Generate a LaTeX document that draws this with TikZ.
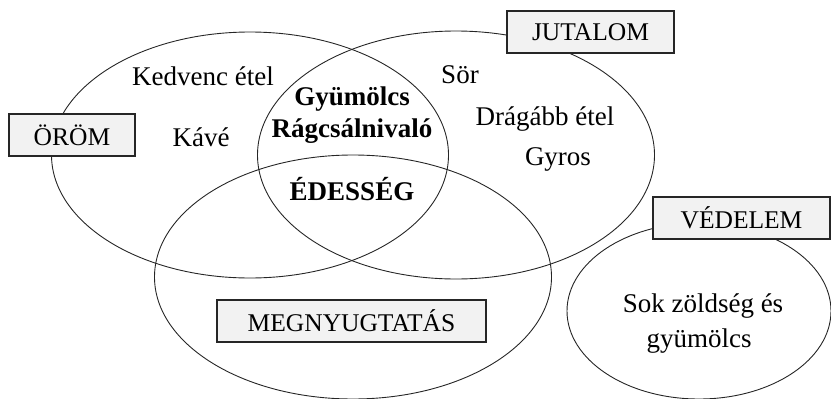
\documentclass[tikz,border=0pt]{standalone}
\usepackage{fontspec}
\setmainfont{Liberation Serif}
\usetikzlibrary{shapes.geometric}
\begin{document}
\begin{tikzpicture}[x=1pt,y=-1pt,
  set/.style={draw=black!85, line width=0.9pt, ellipse, inner sep=0pt, outer sep=0pt},
  tagbox/.style={draw=black!85, line width=1.2pt, fill=black!5, minimum height=42pt, inner sep=0pt, font=\fontsize{25.5}{30}\selectfont},
  item/.style={anchor=base, inner sep=0pt, font=\fontsize{27}{32}\selectfont},
  bolditem/.style={item, font=\fontsize{27}{32}\selectfont\bfseries}]
\useasboundingbox (0,0) rectangle (831,399);
\node[set, minimum width=397pt, minimum height=246pt] (orom) at (250,155) {};
\node[set, minimum width=397pt, minimum height=248pt] (jut) at (456,155) {};
\node[set, minimum width=397pt, minimum height=244pt] (megn) at (353,277) {};
\node[set, minimum width=264pt, minimum height=176pt] (ved) at (699,311) {};
\node[tagbox, minimum width=126pt] (toro) at (72,135) {ÖRÖM};
\node[tagbox, minimum width=167pt] (tjut) at (590.5,32) {JUTALOM};
\node[tagbox, minimum width=177pt] (tved) at (741.5,218) {VÉDELEM};
\node[tagbox, minimum width=269pt] (tmeg) at (351.5,321) {MEGNYUGTATÁS};
\node[item] (kedv) at (203,85) {Kedvenc étel};
\node[item] (kave) at (201,146) {Kávé};
\node[bolditem] (gyum) at (352,105) {Gyümölcs};
\node[bolditem] (ragcs) at (352,137) {Rágcsálnivaló};
\node[bolditem] (edes) at (352,200) {ÉDESSÉG};
\node[item] (sor) at (460,83) {Sör};
\node[item] (drag) at (545,125) {Drágább étel};
\node[item] (gyros) at (558,165) {Gyros};
\node[item] (sok) at (703,312) {Sok zöldség és};
\node[item] (gyum2) at (699,347) {gyümölcs};
\end{tikzpicture}
\end{document}
